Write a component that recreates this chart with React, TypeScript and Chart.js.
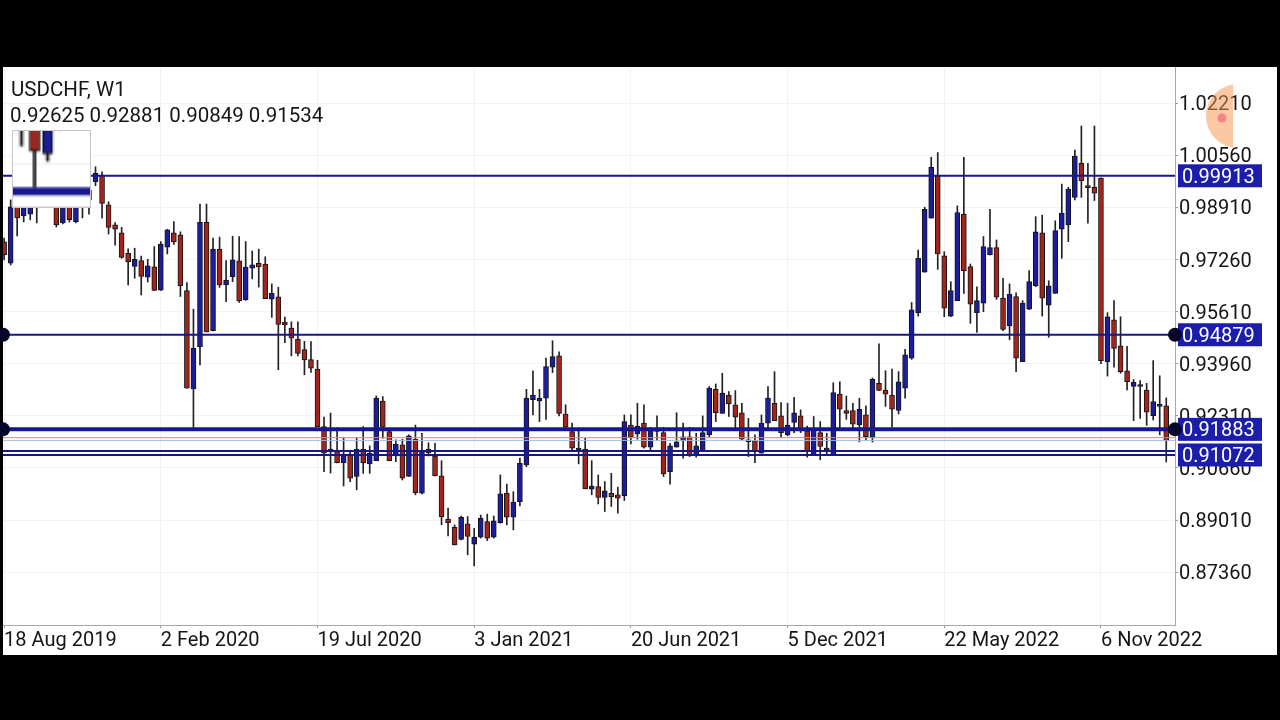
import { useEffect, useRef } from 'react';
import { Chart, registerables } from 'chart.js';

Chart.register(...registerables);

// ---------- data ----------
const symbolTitle = 'USDCHF, W1';

// weekly candles, first week = 18 Aug 2019
const opens = [
  0.9782, 0.9715, 0.9931, 0.9864, 0.9870, 0.9940, 0.9915, 0.9953, 0.9931, 0.9842,
  0.9921, 0.9846, 0.9931, 0.9915, 0.9973, 0.9994, 0.9899, 0.9836, 0.9811, 0.9746,
  0.9704, 0.9723, 0.9670, 0.9703, 0.9629, 0.9765, 0.9811, 0.9804, 0.9628, 0.9316,
  0.9450, 0.9844, 0.9501, 0.9759, 0.9646, 0.9672, 0.9722, 0.9598, 0.9699, 0.9714,
  0.9712, 0.9601, 0.9608, 0.9528, 0.9509, 0.9474, 0.9441, 0.9409, 0.9379, 0.9197,
  0.9117, 0.9118, 0.9083, 0.9110, 0.9039, 0.9126, 0.9079, 0.9089, 0.9278, 0.9181,
  0.9104, 0.9139, 0.9039, 0.9157, 0.8986, 0.9126, 0.9104, 0.9041, 0.8904, 0.8878,
  0.8840, 0.8889, 0.8825, 0.8847, 0.8896, 0.8847, 0.8893, 0.8986, 0.8910, 0.8959,
  0.9076, 0.9282, 0.9278, 0.9287, 0.9385, 0.9421, 0.9237, 0.9181, 0.9123, 0.9126,
  0.8999, 0.9007, 0.8973, 0.8986, 0.8981, 0.8978, 0.9202, 0.9174, 0.9208, 0.9132,
  0.9182, 0.9178, 0.9054, 0.9132, 0.9152, 0.9165, 0.9107, 0.9121, 0.9171, 0.9315,
  0.9239, 0.9297, 0.9266, 0.9241, 0.9155, 0.9153, 0.9113, 0.9208, 0.9271, 0.9231,
  0.9171, 0.9210, 0.9231, 0.9184, 0.9107, 0.9178, 0.9129, 0.9107, 0.9300, 0.9248,
  0.9248, 0.9202, 0.9234, 0.9163, 0.9334, 0.9313, 0.9297, 0.9248, 0.9319, 0.9414,
  0.9558, 0.9686, 0.9857, 0.9991, 0.9738, 0.9547, 0.9596, 0.9870, 0.9704, 0.9558,
  0.9588, 0.9741, 0.9764, 0.9604, 0.9516, 0.9609, 0.9403, 0.9569, 0.9643, 0.9811,
  0.9582, 0.9619, 0.9822, 0.9836, 0.9923, 1.0031, 0.9957, 0.9955, 0.9984, 0.9403,
  0.9535, 0.9453, 0.9374, 0.9324, 0.9324, 0.9313, 0.9232, 0.9261, 0.92625,
];
const highs = [
  0.9794, 0.9915, 0.9953, 0.9921, 0.9931, 0.9959, 0.9962, 0.9972, 0.9946, 0.9931,
  0.9937, 0.9934, 0.9953, 0.9962, 1.0020, 1.0004, 0.9909, 0.9843, 0.9828, 0.9760,
  0.9762, 0.9737, 0.9727, 0.9767, 0.9783, 0.9822, 0.9846, 0.9814, 0.9653, 0.9569,
  0.9902, 0.9902, 0.9794, 0.9797, 0.9723, 0.9800, 0.9799, 0.9783, 0.9753, 0.9759,
  0.9735, 0.9649, 0.9638, 0.9544, 0.9529, 0.9529, 0.9467, 0.9466, 0.9407, 0.9227,
  0.9240, 0.9193, 0.9161, 0.9118, 0.9161, 0.9197, 0.9136, 0.9294, 0.9292, 0.9192,
  0.9155, 0.9157, 0.9171, 0.9202, 0.9176, 0.9146, 0.9144, 0.9089, 0.8939, 0.8886,
  0.8914, 0.8912, 0.8875, 0.8917, 0.8920, 0.8914, 0.9044, 0.9015, 0.8991, 0.9097,
  0.9315, 0.9374, 0.9315, 0.9414, 0.9469, 0.9434, 0.9266, 0.9208, 0.9189, 0.9160,
  0.9089, 0.9044, 0.9023, 0.9049, 0.9005, 0.9234, 0.9234, 0.9271, 0.9266, 0.9195,
  0.9231, 0.9195, 0.9144, 0.9241, 0.9208, 0.9195, 0.9176, 0.9231, 0.9324, 0.9332,
  0.9366, 0.9308, 0.9311, 0.9271, 0.9223, 0.9171, 0.9234, 0.9324, 0.9371, 0.9273,
  0.9271, 0.9290, 0.9250, 0.9199, 0.9229, 0.9213, 0.9176, 0.9336, 0.9339, 0.9294,
  0.9271, 0.9287, 0.9263, 0.9351, 0.9459, 0.9374, 0.9379, 0.9371, 0.9442, 0.9590,
  0.9756, 0.9892, 1.0050, 1.0065, 0.9751, 0.9656, 0.9896, 1.0050, 0.9712, 0.9640,
  0.9799, 0.9885, 0.9788, 0.9667, 0.9649, 0.9621, 0.9596, 0.9691, 0.9862, 0.9867,
  0.9659, 0.9849, 0.9965, 0.9955, 1.0073, 1.0149, 1.0031, 1.0149, 0.9985, 0.9558,
  0.9596, 0.9545, 0.9451, 0.9346, 0.9343, 0.9334, 0.9406, 0.9358, 0.92881,
];
const lows = [
  0.9725, 0.9709, 0.9801, 0.9845, 0.9852, 0.9842, 0.9896, 0.9899, 0.9829, 0.9839,
  0.9845, 0.9842, 0.9858, 0.9870, 0.9960, 0.9857, 0.9807, 0.9772, 0.9730, 0.9646,
  0.9667, 0.9614, 0.9655, 0.9628, 0.9628, 0.9744, 0.9774, 0.9609, 0.9319, 0.9187,
  0.9392, 0.9497, 0.9500, 0.9638, 0.9593, 0.9656, 0.9590, 0.9597, 0.9665, 0.9639,
  0.9602, 0.9543, 0.9377, 0.9463, 0.9421, 0.9421, 0.9361, 0.9369, 0.9197, 0.9054,
  0.9050, 0.9082, 0.9009, 0.9023, 0.8997, 0.9049, 0.9049, 0.9089, 0.9160, 0.9089,
  0.9086, 0.9028, 0.9039, 0.8981, 0.8984, 0.9104, 0.9041, 0.8886, 0.8851, 0.8822,
  0.8838, 0.8791, 0.8756, 0.8844, 0.8836, 0.8844, 0.8891, 0.8886, 0.8870, 0.8946,
  0.9070, 0.9234, 0.9213, 0.9220, 0.9368, 0.9231, 0.9186, 0.9123, 0.9079, 0.9000,
  0.8981, 0.8952, 0.8928, 0.8944, 0.8923, 0.8963, 0.9142, 0.9157, 0.9129, 0.9123,
  0.9153, 0.9039, 0.9015, 0.9132, 0.9097, 0.9102, 0.9100, 0.9121, 0.9165, 0.9213,
  0.9239, 0.9229, 0.9192, 0.9153, 0.9102, 0.9083, 0.9113, 0.9192, 0.9216, 0.9163,
  0.9168, 0.9178, 0.9178, 0.9100, 0.9107, 0.9092, 0.9107, 0.9107, 0.9189, 0.9220,
  0.9192, 0.9149, 0.9153, 0.9148, 0.9311, 0.9261, 0.9195, 0.9237, 0.9287, 0.9410,
  0.9547, 0.9686, 0.9857, 0.9695, 0.9545, 0.9545, 0.9596, 0.9619, 0.9524, 0.9495,
  0.9561, 0.9741, 0.9600, 0.9501, 0.9472, 0.9371, 0.9403, 0.9567, 0.9640, 0.9547,
  0.9480, 0.9619, 0.9730, 0.9783, 0.9915, 0.9923, 0.9841, 0.9913, 0.9396, 0.9357,
  0.9385, 0.9366, 0.9313, 0.9216, 0.9223, 0.9201, 0.9218, 0.9171, 0.90849,
];
const closes = [
  0.9741, 0.9893, 0.9858, 0.9899, 0.9915, 0.9899, 0.9946, 0.9921, 0.9836, 0.9915,
  0.9852, 0.9915, 0.9905, 0.9946, 0.9999, 0.9904, 0.9828, 0.9822, 0.9733, 0.9719,
  0.9727, 0.9673, 0.9706, 0.9628, 0.9775, 0.9820, 0.9782, 0.9643, 0.9319, 0.9445,
  0.9844, 0.9497, 0.9759, 0.9646, 0.9661, 0.9725, 0.9595, 0.9702, 0.9709, 0.9703,
  0.9602, 0.9619, 0.9521, 0.9519, 0.9477, 0.9429, 0.9408, 0.9382, 0.9197, 0.9113,
  0.9126, 0.9083, 0.9110, 0.9034, 0.9126, 0.9083, 0.9113, 0.9287, 0.9195, 0.9089,
  0.9141, 0.9034, 0.9168, 0.8988, 0.9121, 0.9114, 0.9041, 0.8912, 0.8893, 0.8822,
  0.8910, 0.8849, 0.8847, 0.8907, 0.8844, 0.8899, 0.8984, 0.8910, 0.8958, 0.9081,
  0.9287, 0.9297, 0.9287, 0.9387, 0.9419, 0.9239, 0.9195, 0.9129, 0.9129, 0.9000,
  0.9009, 0.8973, 0.8994, 0.8975, 0.8970, 0.9213, 0.9163, 0.9199, 0.9132, 0.9192,
  0.9185, 0.9047, 0.9136, 0.9149, 0.9165, 0.9107, 0.9136, 0.9178, 0.9319, 0.9241,
  0.9303, 0.9269, 0.9227, 0.9157, 0.9149, 0.9118, 0.9208, 0.9287, 0.9216, 0.9178,
  0.9202, 0.9241, 0.9184, 0.9121, 0.9187, 0.9134, 0.9123, 0.9305, 0.9252, 0.9239,
  0.9205, 0.9252, 0.9165, 0.9347, 0.9312, 0.9300, 0.9252, 0.9339, 0.9424, 0.9567,
  0.9730, 0.9885, 1.0018, 0.9744, 0.9572, 0.9628, 0.9875, 0.9691, 0.9585, 0.9596,
  0.9767, 0.9764, 0.9607, 0.9505, 0.9617, 0.9414, 0.9588, 0.9656, 0.9814, 0.9604,
  0.9643, 0.9818, 0.9873, 0.9949, 1.0054, 0.9976, 0.9954, 0.9936, 0.9406, 0.9545,
  0.9445, 0.9371, 0.9339, 0.9337, 0.9327, 0.9243, 0.9276, 0.9264, 0.91534,
];

const priceTicks = [1.0221, 1.0056, 0.9891, 0.9726, 0.9561, 0.9396, 0.9231, 0.9066, 0.8901, 0.8736];
const dateTickIndex = [0, 24, 48, 72, 96, 120, 144, 168];
const dateTickLabels = ['18 Aug 2019', '2 Feb 2020', '19 Jul 2020', '3 Jan 2021', '20 Jun 2021', '5 Dec 2021', '22 May 2022', '6 Nov 2022'];

// horizontal objects (support / resistance, ask, bid)
const askPrice = 0.9162;
const bidPrice = closes[closes.length - 1];
const levelValues = [0.99913, 0.94879, 0.91883, askPrice, bidPrice, 0.912, 0.91072];
const labeledLevels = [0.99913, 0.94879, 0.91883, 0.91072];
const dottedLevels = [0.94879, 0.91883];

const priceMin = 0.85687;
const priceMax = 1.03359;
const indexMin = -0.17;
const indexMax = 179.34;

// magnifier loupe centre (data coordinates)
const loupeCenter = { index: 137.3, price: 0.9224 };

// ---------- styles ----------
const NAVY = '#17178c';
const BULL = '#1c1c9e';
const BEAR = '#a3241b';
const levelStyles = [
  { color: NAVY, width: 2 },
  { color: NAVY, width: 2 },
  { color: NAVY, width: 4 },
  { color: '#d98585', width: 1 },
  { color: '#98c0e6', width: 1 },
  { color: NAVY, width: 2 },
  { color: NAVY, width: 2 },
];
const FONT = 'Roboto';

const mtPlugin = {
  id: 'mtDecor',
  beforeDraw(chart: any) {
    const { ctx, width, height, chartArea: ca } = chart;
    ctx.save();
    ctx.fillStyle = '#000';
    ctx.fillRect(0, 0, width, height);
    ctx.fillStyle = '#fff';
    ctx.fillRect(ca.left, ca.top, width - ca.left - 3, height - ca.top - 65);
    ctx.restore();
  },
  afterDatasetsDraw(chart: any) {
    const { ctx, chartArea: ca, scales } = chart;
    const y = scales.y;
    ctx.save();
    levelValues.forEach((v, k) => {
      const st = levelStyles[k];
      const py = y.getPixelForValue(v);
      ctx.strokeStyle = st.color;
      ctx.lineWidth = st.width;
      ctx.beginPath();
      ctx.moveTo(ca.left, py);
      ctx.lineTo(ca.right, py);
      ctx.stroke();
    });
    ctx.font = `20px ${FONT}`;
    ctx.textBaseline = 'middle';
    ctx.textAlign = 'left';
    labeledLevels.forEach((v) => {
      const py = y.getPixelForValue(v);
      ctx.fillStyle = '#1d1dab';
      ctx.fillRect(ca.right + 3, py - 11.5, 84, 23);
      ctx.fillStyle = '#fff';
      ctx.fillText(v.toFixed(5), ca.right + 7, py + 2);
    });
    dottedLevels.forEach((v) => {
      const py = y.getPixelForValue(v);
      ctx.fillStyle = '#07072a';
      [ca.left, ca.right].forEach((px) => {
        ctx.beginPath();
        ctx.arc(px, py, 7, 0, Math.PI * 2);
        ctx.fill();
      });
    });
    // header
    const last = closes.length - 1;
    const ohlc = [opens[last], highs[last], lows[last], closes[last]].map((v) => v.toFixed(5)).join(' ');
    ctx.fillStyle = '#151515';
    ctx.font = `20.5px ${FONT}`;
    ctx.fillText(symbolTitle, ca.left + 8, ca.top + 24);
    ctx.fillText(ohlc, ca.left + 7, ca.top + 50);
    ctx.restore();
  },
  afterDraw(chart: any) {
    const { ctx, chartArea: ca, scales, canvas } = chart;
    const cx = scales.x.getPixelForValue(loupeCenter.index);
    const cy = scales.y.getPixelForValue(loupeCenter.price);
    const zoom = 2;
    const dw = 79;
    const dh = 78;
    const sw = dw / zoom;
    const sh = dh / zoom;
    const dx = ca.left + 9;
    const dy = ca.top + 63;
    ctx.save();
    ctx.fillStyle = '#fff';
    ctx.fillRect(dx, dy, dw, dh);
    ctx.imageSmoothingEnabled = true;
    ctx.drawImage(canvas, cx - sw / 2, cy - sh / 2, sw, sh, dx, dy, dw, dh);
    ctx.strokeStyle = '#c6c6c6';
    ctx.lineWidth = 1;
    ctx.strokeRect(dx + 0.5, dy + 0.5, dw - 1, dh - 1);
    ctx.restore();

    // touch indicator
    const tx = ca.right + 58;
    const ty = ca.top + 49;
    ctx.save();
    ctx.beginPath();
    ctx.rect(0, 0, tx, chart.height);
    ctx.clip();
    ctx.fillStyle = 'rgba(249,150,78,0.52)';
    ctx.beginPath();
    ctx.arc(tx + 5, ty, 32, 0, Math.PI * 2);
    ctx.fill();
    ctx.fillStyle = 'rgba(240,110,125,0.75)';
    ctx.beginPath();
    ctx.arc(tx - 11, ty + 2, 4.5, 0, Math.PI * 2);
    ctx.fill();
    ctx.restore();
  },
};

export default function App() {
  const ref = useRef<HTMLCanvasElement | null>(null);
  useEffect(() => {
    if (!ref.current) return;
    const idx = opens.map((_, i) => i);
    const wickData = idx.map((i) => ({ x: i, y: [lows[i], highs[i]] }));
    const bodyData = idx.map((i) => ({ x: i, y: [opens[i], closes[i]] }));
    const bodyColors = idx.map((i) => (closes[i] >= opens[i] ? BULL : BEAR));
    const chart = new Chart(ref.current, {
      type: 'bar',
      data: {
        datasets: [
          {
            label: 'wick',
            data: wickData as any,
            backgroundColor: '#222222',
            borderWidth: 0,
            barThickness: 1,
            grouped: false,
            order: 2,
          },
          {
            label: 'body',
            data: bodyData as any,
            backgroundColor: bodyColors,
            borderColor: '#141414',
            borderWidth: 1,
            borderSkipped: false,
            barThickness: 5,
            minBarLength: 2,
            grouped: false,
            order: 1,
          },
        ],
      },
      options: {
        responsive: false,
        animation: false,
        devicePixelRatio: 1,
        events: [],
        layout: { padding: { left: 3, top: 67, right: 0, bottom: 0 } },
        plugins: { legend: { display: false }, tooltip: { enabled: false }, title: { display: false } },
        scales: {
          x: {
            type: 'linear',
            min: indexMin,
            max: indexMax,
            offset: false,
            afterBuildTicks: (s: any) => {
              s.ticks = dateTickIndex.map((v) => ({ value: v }));
            },
            afterFit: (s: any) => {
              s.height = 95;
            },
            ticks: {
              autoSkip: false,
              maxRotation: 0,
              minRotation: 0,
              align: 'start',
              padding: 3,
              color: '#151515',
              font: { family: FONT, size: 20, lineHeight: 1 },
              callback: (_v: any, i: number) => dateTickLabels[i],
            },
            grid: { color: '#f3f3f3', offset: false, tickLength: 3, tickColor: '#9a9a9a', drawTicks: true },
            border: { display: true, color: '#a8a8a8' },
          },
          y: {
            type: 'linear',
            position: 'right',
            min: priceMin,
            max: priceMax,
            afterBuildTicks: (s: any) => {
              s.ticks = priceTicks.map((v) => ({ value: v }));
            },
            afterFit: (s: any) => {
              s.width = 105;
            },
            ticks: {
              autoSkip: false,
              padding: 1,
              labelOffset: 2,
              color: '#151515',
              font: { family: FONT, size: 20 },
              callback: (v: any) => Number(v).toFixed(5),
            },
            grid: { color: '#f3f3f3', tickLength: 3, tickColor: '#9a9a9a', drawTicks: true },
            border: { display: true, color: '#a8a8a8' },
          },
        },
      } as any,
      plugins: [mtPlugin],
    });
    return () => chart.destroy();
  }, []);
  return (
    <div style={{ position: 'fixed', left: 0, top: 0, width: 1280, height: 720, background: '#000' }}>
      <canvas ref={ref} width={1280} height={720} style={{ display: 'block', width: 1280, height: 720 }} />
    </div>
  );
}
